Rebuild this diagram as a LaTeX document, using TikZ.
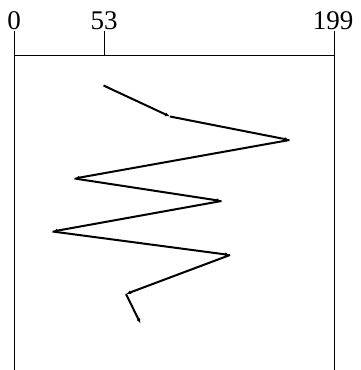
\documentclass[tikz,border=0pt]{standalone}
\usepackage{fontspec}
\setmainfont{Liberation Serif}
\usetikzlibrary{arrows.meta}
\begin{document}
\begin{tikzpicture}[x=1pt,y=-1pt,
  axisline/.style={line width=1pt},
  seek/.style={line width=2pt,-{Latex[length=5pt,width=4pt]}},
  lbl/.style={anchor=base,inner sep=0pt,font=\fontsize{27}{27}\selectfont}]
\useasboundingbox (0,0) rectangle (360,370);
% axis
\coordinate (a0) at (14,55);
\coordinate (a53) at (104,55);
\coordinate (a199) at (334,55);
\coordinate (t0) at (14,31);
\coordinate (t53) at (104,31);
\coordinate (t199) at (334,31);
\coordinate (b0) at (14,370);
\coordinate (b199) at (334,370);
\draw[axisline] (a0) -- (a199);
\draw[axisline] (t0) -- (b0);
\draw[axisline] (t199) -- (b199);
\draw[axisline] (t53) -- (a53);
\node[lbl] (l0) at (14,29) {0};
\node[lbl] (l53) at (104,29) {53};
\node[lbl] (l199) at (333,29) {199};
% seek path
\coordinate (p1) at (103.5,85.5);
\coordinate (p2) at (170,116.5);
\coordinate (p3) at (289.5,140);
\coordinate (p4) at (74.5,178.5);
\coordinate (p5) at (221.5,201);
\coordinate (p6) at (52.5,231.5);
\coordinate (p7) at (230,255);
\coordinate (p8) at (126,294);
\coordinate (p9) at (140.5,323.5);
\draw[seek] (p1) -- (p2);
\draw[seek] (p2) -- (p3);
\draw[seek] (p3) -- (p4);
\draw[seek] (p4) -- (p5);
\draw[seek] (p5) -- (p6);
\draw[seek] (p6) -- (p7);
\draw[seek] (p7) -- (p8);
\draw[seek] (p8) -- (p9);
\end{tikzpicture}
\end{document}
